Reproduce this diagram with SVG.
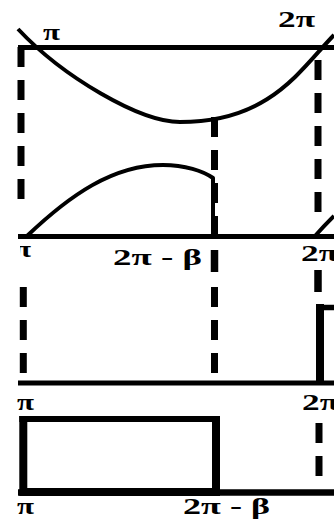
<svg xmlns="http://www.w3.org/2000/svg" width="334" height="523" viewBox="0 0 334 523">
<style>
.ln{stroke:#000;fill:none;stroke-linecap:butt}
.axis{stroke-width:5}
.crv{stroke-width:4;stroke-linejoin:round}
.dash{stroke-width:7;stroke-dasharray:20 13}
.lbl{font-family:"Liberation Serif","Times New Roman",serif;font-weight:bold;font-size:24px;fill:#000}
</style>
<defs>
<clipPath id="clipL"><rect x="20" y="230" width="60" height="40"/></clipPath>
</defs>
<rect width="334" height="523" fill="#fff"/>
<g id="panel1">
<line class="ln axis" x1="18" y1="47.5" x2="334" y2="47.5"/>
<path class="ln crv" d="M18,29 C63,77 140,122 180,122 C270,122 300,70 334,35"/>
<text class="lbl" x="43" y="40" textLength="17" lengthAdjust="spacingAndGlyphs">π</text>
<text class="lbl" x="278" y="27" textLength="37" lengthAdjust="spacingAndGlyphs">2π</text>
</g>
<g id="panel2">
<line class="ln axis" x1="18" y1="236.5" x2="334" y2="236.5"/>
<path class="ln crv" d="M27,236 C70,195 113,165 163,165 C185,165 203,171 213,178 L213,236"/>
<path class="ln crv" d="M315,236 Q324,226 334,216"/>
<text class="lbl" x="14" y="257" textLength="17" lengthAdjust="spacingAndGlyphs" clip-path="url(#clipL)">π</text>
<text class="lbl" x="113" y="265" font-size="26" textLength="89" lengthAdjust="spacingAndGlyphs">2π - β</text>
<text class="lbl" x="301" y="261" font-size="25" textLength="37" lengthAdjust="spacingAndGlyphs">2π</text>
</g>
<g id="panel3">
<line class="ln axis" x1="18" y1="383" x2="334" y2="383"/>
<line class="ln" stroke-width="8" x1="320" y1="304" x2="320" y2="383"/>
<line class="ln" stroke-width="5.5" x1="316" y1="307.5" x2="334" y2="307.5"/>
<text class="lbl" x="17" y="410" textLength="17" lengthAdjust="spacingAndGlyphs">π</text>
<text class="lbl" x="302" y="410" textLength="37" lengthAdjust="spacingAndGlyphs">2π</text>
</g>
<g id="panel4">
<line class="ln" stroke-width="6.5" x1="18" y1="492.5" x2="334" y2="492.5"/>
<path class="ln" stroke-width="8" d="M23.3,416 V492 H216 V416"/>
<line class="ln" stroke-width="6" x1="19.3" y1="419" x2="220" y2="419"/>
<text class="lbl" x="17" y="514" textLength="17" lengthAdjust="spacingAndGlyphs">π</text>
<text class="lbl" x="183" y="514" textLength="87" lengthAdjust="spacingAndGlyphs">2π - β</text>
</g>
<g id="connectors">
<line class="ln dash" stroke-width="6" x1="21" y1="47" x2="21" y2="200"/>
<line class="ln dash" x1="318" y1="60" x2="318" y2="216"/>
<line class="ln dash" x1="214.5" y1="117" x2="214.5" y2="240"/>
<line class="ln" stroke-width="7.5" x1="214.5" y1="250" x2="214.5" y2="272"/>
<line class="ln dash" stroke-width="8" x1="214.5" y1="287" x2="214.5" y2="374"/>
<line class="ln dash" stroke-width="8" x1="23.3" y1="287" x2="23.3" y2="374"/>
<line class="ln" stroke-width="7.5" x1="318" y1="270" x2="318" y2="292"/>
<line class="ln dash" stroke-width="8" x1="319" y1="423" x2="319" y2="481"/>
</g>
</svg>
